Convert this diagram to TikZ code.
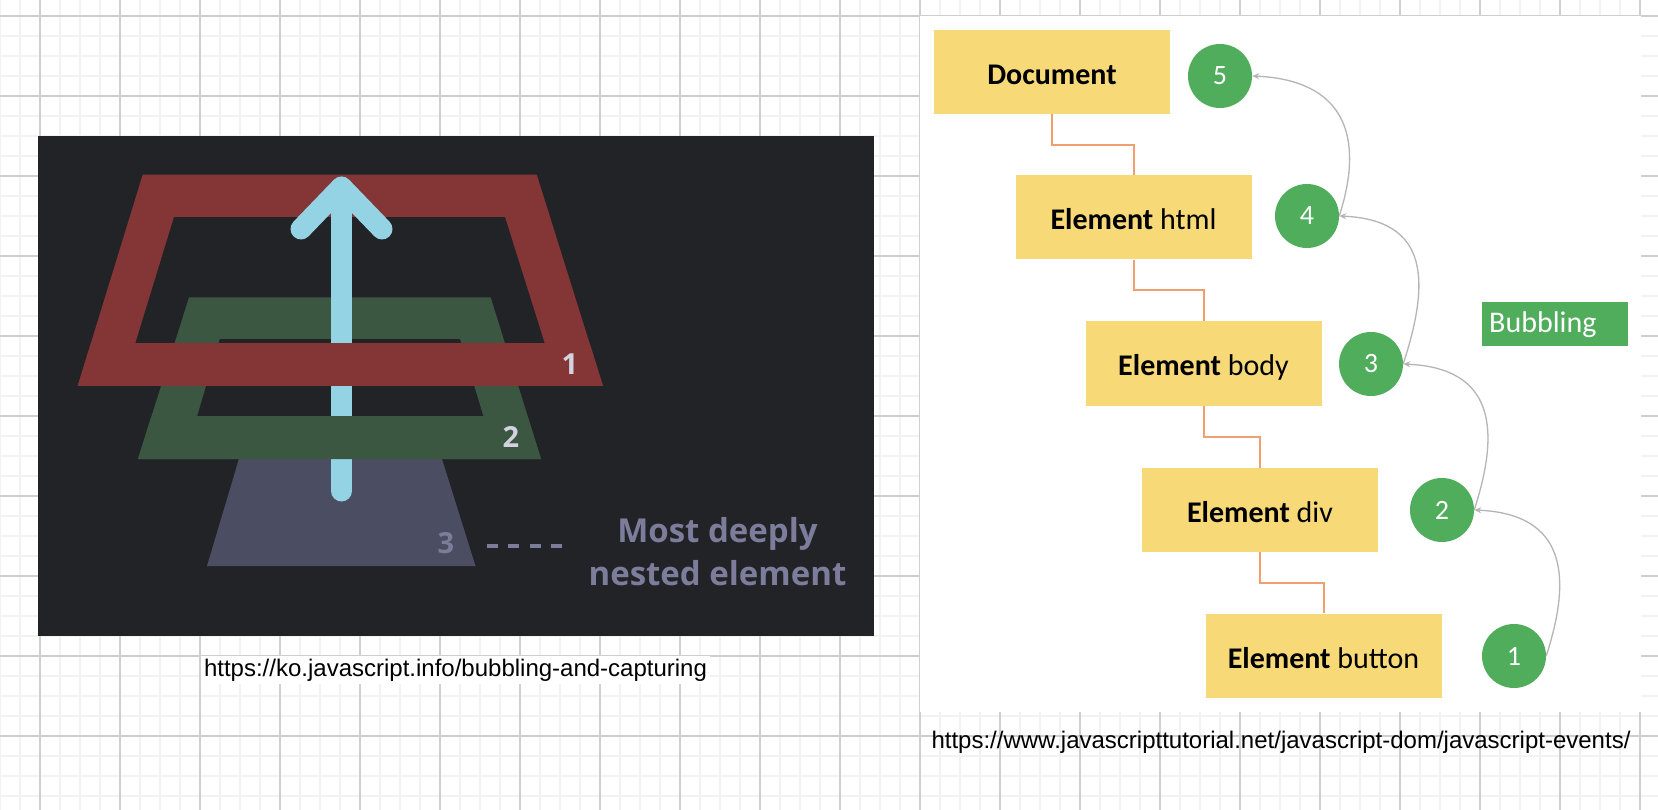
\documentclass[tikz,border=0pt]{standalone}
\usepackage{fontspec}
\usepackage{tikz}
\usetikzlibrary{calc}
\usetikzlibrary{arrows.meta}
\newfontfamily\opensans{Open Sans}
\newfontfamily\carlito{Carlito}
\newfontfamily\arialish{Liberation Sans}
\usepackage{xcolor}
\definecolor{gridminor}{HTML}{F2F2F2}
\definecolor{gridmajor}{HTML}{CFCFCF}
\definecolor{panel}{HTML}{222327}
\definecolor{ringred}{HTML}{843536}
\definecolor{ringgreen}{HTML}{3B5742}
\definecolor{ringpurple}{HTML}{4B4E62}
\definecolor{arrowblue}{HTML}{94D3E3}
\definecolor{numlight}{HTML}{D2D3DF}
\definecolor{nestgray}{HTML}{7B7D9B}
\definecolor{boxyellow}{HTML}{F7D978}
\definecolor{stepgreen}{HTML}{4FAD5C}
\definecolor{linkorange}{HTML}{F0A06E}
\definecolor{curvegray}{HTML}{B5B5B5}
\tikzstyle{elbox}=[fill=boxyellow, minimum width=236pt, minimum height=84pt, inner sep=0pt, text height=25pt, text depth=0pt, font=\carlito\fontsize{30}{36}\selectfont]
\tikzstyle{stepnum}=[circle, fill=stepgreen, minimum size=64pt, inner sep=0pt, text=white, font=\carlito\fontsize{28}{30}\selectfont]
\tikzstyle{numtag}=[inner sep=0pt, font=\opensans\bfseries\fontsize{29}{32}\selectfont]
\tikzstyle{treelink}=[linkorange, line width=2pt]
\tikzstyle{bubcurve}=[curvegray, line width=1.3pt, -{Stealth[length=7pt,width=6pt]}]
\tikzstyle{srclink}=[font=\arialish\fontsize{24}{28}\selectfont, anchor=base]
\tikzstyle{bandfill}=[line width=21pt, arrowblue, line cap=round, line join=round]
\newcommand{\ringshape}[4]{(#1) -- (#2) -- (#3) -- (#4) -- cycle}
\begin{document}
\begin{tikzpicture}[x=1pt,y=-1pt]
\useasboundingbox (0,0) rectangle (1658,810);
\foreach \gx in {0,20,...,1660} \draw[gridminor,line width=1.6pt] (\gx,0) -- (\gx,810);
\foreach \gy in {-4,16,...,816} \draw[gridminor,line width=1.6pt] (0,\gy) -- (1658,\gy);
\foreach \gx in {40,120,...,1640} \draw[gridmajor,line width=1.1pt] (\gx,0) -- (\gx,810);
\foreach \gy in {16,96,...,816} \draw[gridmajor,line width=1.1pt] (0,\gy) -- (1658,\gy);
% left: nested elements
\fill[panel] (38,136) rectangle (874,636);
\coordinate (ro1) at (142.7,174.7);
\coordinate (ro2) at (536.8,174.7);
\coordinate (ro3) at (603,386);
\coordinate (ro4) at (77.7,386);
\coordinate (ri1) at (174,216.8);
\coordinate (ri2) at (505,216.8);
\coordinate (ri3) at (545,344);
\coordinate (ri4) at (135,344);
\coordinate (go1) at (189,297.4);
\coordinate (go2) at (490.7,297.4);
\coordinate (go3) at (541,459);
\coordinate (go4) at (138,459);
\coordinate (gi1) at (219.7,339);
\coordinate (gi2) at (460,339);
\coordinate (gi3) at (483.6,416.5);
\coordinate (gi4) at (197,416.5);
\coordinate (pu1) at (244.6,440);
\coordinate (pu2) at (436,440);
\coordinate (pu3) at (475.5,566);
\coordinate (pu4) at (207,566);
\fill[ringpurple] \ringshape{pu1}{pu2}{pu3}{pu4};
\fill[ringgreen,even odd rule] \ringshape{go1}{go2}{go3}{go4} \ringshape{gi1}{gi2}{gi3}{gi4};
\fill[ringred,even odd rule] \ringshape{ro1}{ro2}{ro3}{ro4} \ringshape{ri1}{ri2}{ri3}{ri4};
\draw[bandfill] (341.5,491) -- (341.5,192);
\draw[bandfill] (301,229) -- (341.5,187) -- (382,229);
\begin{scope}
\clip (0,416.5) rectangle (900,460);
\fill[ringgreen] \ringshape{go1}{go2}{go3}{go4};
\end{scope}
\begin{scope}
\clip (0,344) rectangle (900,387);
\fill[ringred] \ringshape{ro1}{ro2}{ro3}{ro4};
\end{scope}
\node[numtag,text=numlight] (n1) at (570,364) {1};
\node[numtag,text=numlight] (n2) at (511,437) {2};
\node[numtag,text=nestgray] (n3) at (446,543) {3};
\coordinate (dashl) at (487,546);
\coordinate (dashr) at (562,546);
\draw[nestgray,line width=4pt,dash pattern=on 11pt off 10.3pt] (dashl) -- (dashr);
\node[font=\opensans\bfseries\fontsize{33}{43}\selectfont, text=nestgray, align=center, anchor=base] (deep) at (717.5,585) {Most deeply\\nested element};
\node[srclink, fill=white, inner sep=3pt] (srcleft) at (455.5,676) {https://ko.javascript.info/bubbling-and-capturing};
% right: bubbling
\fill[white] (920,16) rectangle (1641,712);
\node[elbox] (doc) at (1052,72) {\textbf{Document}};
\node[elbox] (html) at (1133.5,217.5) {\textbf{Element} html};
\node[elbox] (body) at (1203.5,363.5) {\textbf{Element} body};
\node[elbox] (div) at (1260,510) {\textbf{Element} div};
\node[elbox] (button) at (1323.5,655.5) {\textbf{Element} button};
\foreach \up/\dn in {doc/html,html/body,body/div,div/button}
  \draw[treelink] (\up.south) |- ($(\up.south)!.5!(\dn.north)$) -| (\dn.north);
\node[stepnum] (c5) at (1220,76) {5};
\node[stepnum] (c4) at (1307,216) {4};
\node[stepnum] (c3) at (1371,364) {3};
\node[stepnum] (c2) at (1442,510) {2};
\node[stepnum] (c1) at (1514,656) {1};
\foreach \lo/\hi in {c1/c2,c2/c3,c3/c4,c4/c5}
  \draw[bubcurve] (\lo.east) .. controls +(26,-80) and +(92,4) .. (\hi.east);
\node[fill=stepgreen, text=white, anchor=west, text width=132pt, align=left, inner xsep=7pt, inner ysep=0pt, minimum height=44pt, text height=20pt, text depth=2pt, font=\carlito\fontsize{30}{36}\selectfont] (bub) at (1482,324) {Bubbling};
\node[srclink] (srcright) at (1281,748) {https://www.javascripttutorial.net/javascript-dom/javascript-events/};
\end{tikzpicture}
\end{document}
